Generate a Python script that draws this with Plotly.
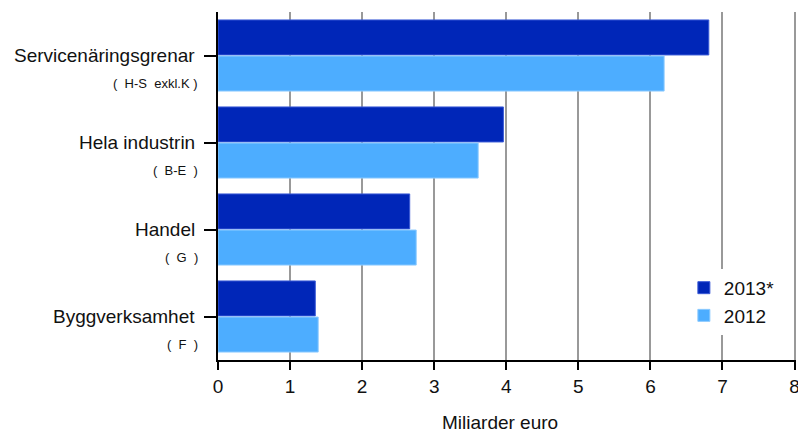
import plotly.graph_objects as go

categories = ["Servicenäringsgrenar ", "Hela industrin", "Handel", "Byggverksamhet"]
subtitles = ["(\u00a0\u00a0H-S\u00a0\u00a0exkl.K\u00a0)", "(\u00a0\u00a0B-E\u00a0\u00a0)", "(\u00a0\u00a0G\u00a0\u00a0)", "(\u00a0\u00a0F\u00a0\u00a0)"]
values_2013 = [6.81, 3.96, 2.66, 1.35]
values_2012 = [6.19, 3.61, 2.75, 1.39]
series_names = ["2013*", "2012"]
x_ticks = [0, 1, 2, 3, 4, 5, 6, 7, 8]
x_title = "Miliarder euro"

FONT = "Liberation Sans, Arial, sans-serif"
TXT = "#111111"

fig = go.Figure()
fig.add_trace(go.Bar(
    y=categories, x=values_2013, orientation="h", name=series_names[0],
    marker=dict(color="#0026B8", line=dict(color="#3a5ad6", width=1)),
    legendgroup="a",
))
fig.add_trace(go.Bar(
    y=categories, x=values_2012, orientation="h", name=series_names[1],
    marker=dict(color="#4DADFF", line=dict(color="#8ccaff", width=1)),
    legendgroup="b",
))

W, H = 798, 432
ML, MR, MT, MB = 218, 2, 12, 72
plot_w = W - ML - MR

annotations = []
for cat, sub in zip(categories, subtitles):
    annotations.append(dict(
        x=-(ML - 197) / plot_w, xref="paper", y=cat, yref="y", text=cat.strip(), showarrow=False,
        xanchor="right", yanchor="middle", font=dict(family=FONT, size=19, color=TXT),
    ))
    annotations.append(dict(
        x=-(ML - 200) / plot_w, xref="paper", y=cat, yref="y", yshift=-28, text=sub, showarrow=False,
        xanchor="right", yanchor="middle", font=dict(family=FONT, size=13, color=TXT),
    ))
annotations.append(dict(
    x=(500 - ML) / plot_w, xref="paper", y=0, yref="paper", yshift=-62, text=x_title,
    showarrow=False, xanchor="center", yanchor="middle",
    font=dict(family=FONT, size=19, color=TXT),
))

fig.update_layout(
    width=W, height=H,
    margin=dict(l=ML, r=MR, t=MT, b=MB),
    paper_bgcolor="white", plot_bgcolor="white",
    barmode="group", bargap=0.17, bargroupgap=0.03,
    font=dict(family=FONT, size=19, color=TXT),
    showlegend=True, hovermode=False,
    legend=dict(
        x=0.806, y=0.262, xanchor="left", yanchor="top",
        bgcolor="white", font=dict(family=FONT, size=19, color=TXT),
        tracegroupgap=8, traceorder="normal",
    ),
    annotations=annotations,
)
fig.update_xaxes(
    range=[0, 8.02], tickvals=x_ticks, ticktext=[str(t) for t in x_ticks],
    showgrid=True, gridcolor="#999999", gridwidth=1.5,
    showline=True, linecolor="#000", linewidth=1.5,
    ticks="outside", ticklen=8, tickwidth=1.5, tickcolor="#000",
    zeroline=False, automargin=False, ticklabeloverflow="allow",
    tickfont=dict(family=FONT, size=19, color=TXT),
)
fig.update_yaxes(
    autorange="reversed", showticklabels=False,
    showline=True, linecolor="#000", linewidth=1.5,
    ticks="outside", ticklen=12, tickwidth=1.5, tickcolor="#000",
    showgrid=False, zeroline=False, automargin=False,
)

fig.write_html(
    "out.html",
    config={"displayModeBar": False},
    post_script="document.body.style.margin='0';document.body.style.overflow='hidden';",
)
